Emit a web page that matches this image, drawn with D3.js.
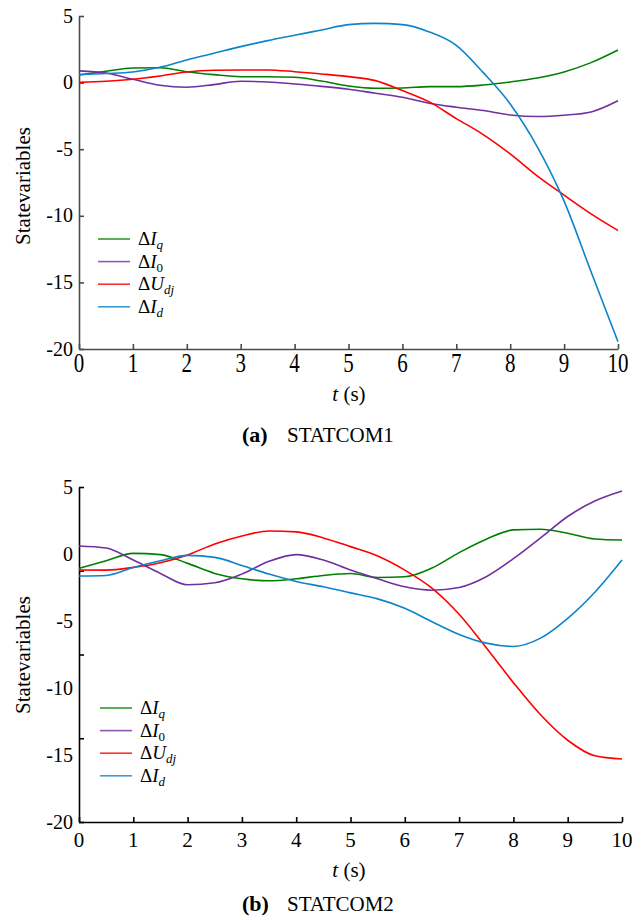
<!DOCTYPE html>
<html><head><meta charset="utf-8">
<script src="https://cdn.jsdelivr.net/npm/d3@7"></script>
<style>
body{margin:0;background:#fff}
svg{display:block}
</style>
</head><body>
<svg id="chart" width="643" height="920"></svg>
<script>
// ---------------- data ----------------
const timeGrid = [0,0.5,1,1.5,2,2.5,3,3.5,4,4.5,5,5.5,6,6.5,7,7.5,8,8.5,9,9.5,10];
const xTickValues = [0,1,2,3,4,5,6,7,8,9,10];
const yTickLabels = [5,0,-5,-10,-15,-20];
const yTickMarksA = [5,0,-5,-10,-15,-20];
const yTickMarksB = [5,-1.25,-7.5,-13.75,-20];
const seriesKeys = ["Iq","I0","Udj","Id"];
const seriesColors = ["#008000","#7030A0","#FF0000","#0B84C9"];

// (a) STATCOM1
const a_Iq  = [0.57,0.85,1.1,1.12,0.82,0.6,0.44,0.44,0.4,0.12,-0.25,-0.42,-0.4,-0.3,-0.3,-0.18,0.05,0.35,0.8,1.5,2.45];
const a_I0  = [0.88,0.72,0.25,-0.2,-0.35,-0.15,0.1,0.05,-0.1,-0.28,-0.5,-0.8,-1.1,-1.55,-1.85,-2.1,-2.43,-2.55,-2.45,-2.2,-1.36];
const a_Udj = [0.02,0.1,0.25,0.5,0.8,0.93,0.95,0.95,0.82,0.65,0.45,0.15,-0.6,-1.45,-2.7,-3.9,-5.35,-7.0,-8.45,-9.85,-11.1];
const a_Id  = [0.6,0.68,0.8,1.15,1.7,2.2,2.7,3.15,3.55,3.95,4.35,4.45,4.35,3.8,2.8,0.75,-1.6,-4.8,-8.9,-14.2,-19.45];

// (b) STATCOM2
const b_Iq  = [-1.07,-0.5,0.05,-0.05,-0.7,-1.45,-1.85,-2.0,-1.85,-1.6,-1.45,-1.75,-1.7,-1.05,0.1,1.1,1.8,1.85,1.55,1.12,1.04];
const b_I0  = [0.6,0.45,-0.45,-1.45,-2.3,-2.15,-1.5,-0.55,-0.05,-0.45,-1.2,-1.85,-2.45,-2.7,-2.5,-1.7,-0.35,1.2,2.8,3.95,4.7];
const b_Udj = [-1.19,-1.2,-1.0,-0.65,-0.07,0.75,1.35,1.72,1.65,1.2,0.55,-0.15,-1.2,-2.55,-4.5,-7.0,-9.6,-12.0,-13.9,-15.06,-15.3];
const b_Id  = [-1.64,-1.6,-1.0,-0.5,-0.1,-0.25,-0.85,-1.5,-2.05,-2.45,-2.9,-3.35,-4.05,-5.05,-6.0,-6.65,-6.9,-6.28,-4.8,-2.85,-0.45];

// ---------------- drawing ----------------
const FONT = "Liberation Serif";
const svg = d3.select("#chart");

const panels = [
  {series:[a_Iq,a_I0,a_Udj,a_Id], x0:79, x1:618, yTop:16, yBot:349, axisColor:"#4a4a4a",
   yMarks:yTickMarksA, xLabelBase:372, xLabelStretch:1.35, tLabelBase:401, capBase:442,
   cap:"STATCOM1", capLetter:"(a)", yTitleCenter:186, legX:98, legY:239},
  {series:[b_Iq,b_I0,b_Udj,b_Id], x0:79, x1:622, yTop:487, yBot:822, axisColor:"#000",
   yMarks:yTickMarksB, xLabelBase:847, xLabelStretch:1.0, tLabelBase:877, capBase:911,
   cap:"STATCOM2", capLetter:"(b)", yTitleCenter:655, legX:100, legY:708}
];

panels.forEach(p => {
  const g = svg.append("g");
  const x = d3.scaleLinear().domain([0,10]).range([p.x0,p.x1]);
  const y = d3.scaleLinear().domain([-20,5]).range([p.yBot,p.yTop]);

  const xa = g.append("g").attr("transform",`translate(0,${p.yBot})`)
    .call(d3.axisBottom(x).tickValues(xTickValues).tickSizeInner(-5).tickSizeOuter(0).tickFormat(""));
  const ya = g.append("g").attr("transform",`translate(${p.x0},0)`)
    .call(d3.axisLeft(y).tickValues(p.yMarks).tickSizeInner(-5).tickSizeOuter(0).tickFormat(""));
  [xa,ya].forEach(a=>{
    a.selectAll("path,line").attr("stroke",p.axisColor).attr("stroke-width",1.6);
  });

  g.append("g").selectAll("text").data(xTickValues).join("text")
    .attr("transform",d=>`translate(${x(d)},${p.xLabelBase}) scale(1,${p.xLabelStretch})`)
    .style("font-family",FONT).style("font-size","21px")
    .attr("text-anchor","middle").text(d=>d);

  g.append("g").selectAll("text").data(yTickLabels).join("text")
    .attr("x",p.x0-6).attr("y",d=>y(d)+6.5)
    .style("font-family",FONT).style("font-size","20px")
    .attr("text-anchor","end").text(d=>d);

  g.append("text").attr("transform",`translate(30,${p.yTitleCenter}) rotate(-90)`)
    .style("font-family",FONT).style("font-size","21px")
    .attr("text-anchor","middle").text("Statevariables");

  const xt = g.append("text").attr("x",349).attr("y",p.tLabelBase).attr("text-anchor","middle")
    .style("font-family",FONT).style("font-size","21px");
  xt.append("tspan").style("font-style","italic").text("t");
  xt.append("tspan").text(" (s)");

  g.append("text").attr("x",242).attr("y",p.capBase)
    .style("font-family",FONT).style("font-size","22px").style("font-weight","bold").text(p.capLetter);
  g.append("text").attr("x",287).attr("y",p.capBase)
    .style("font-family",FONT).style("font-size","21px").text(p.cap);

  const line = d3.line().x((d,i)=>x(timeGrid[i])).y(d=>y(d)).curve(d3.curveMonotoneX);
  p.series.forEach((s,i)=>{
    g.append("path").datum(s).attr("d",line).attr("fill","none")
      .attr("stroke",seriesColors[i]).attr("stroke-width",1.6).attr("stroke-linejoin","round");
  });

  const subs = [["q",true],["0",false],["dj",true],["d",true]];
  const mains = ["I","I","U","I"];
  seriesKeys.forEach((k,i)=>{
    const ly = p.legY + i*22.6;
    g.append("line").attr("x1",p.legX).attr("x2",p.legX+32).attr("y1",ly).attr("y2",ly)
      .attr("stroke",seriesColors[i]).attr("stroke-width",1.6).attr("opacity",0.8);
    const t = g.append("text").attr("x",p.legX+40).attr("y",ly+6)
      .style("font-family",FONT).style("font-size","19px");
    t.append("tspan").text("Δ");
    t.append("tspan").style("font-style","italic").text(mains[i]);
    t.append("tspan").style("font-size","13px").attr("dy",4)
      .style("font-style",subs[i][1]?"italic":"normal").text(subs[i][0]);
  });
});
</script>
</body></html>
